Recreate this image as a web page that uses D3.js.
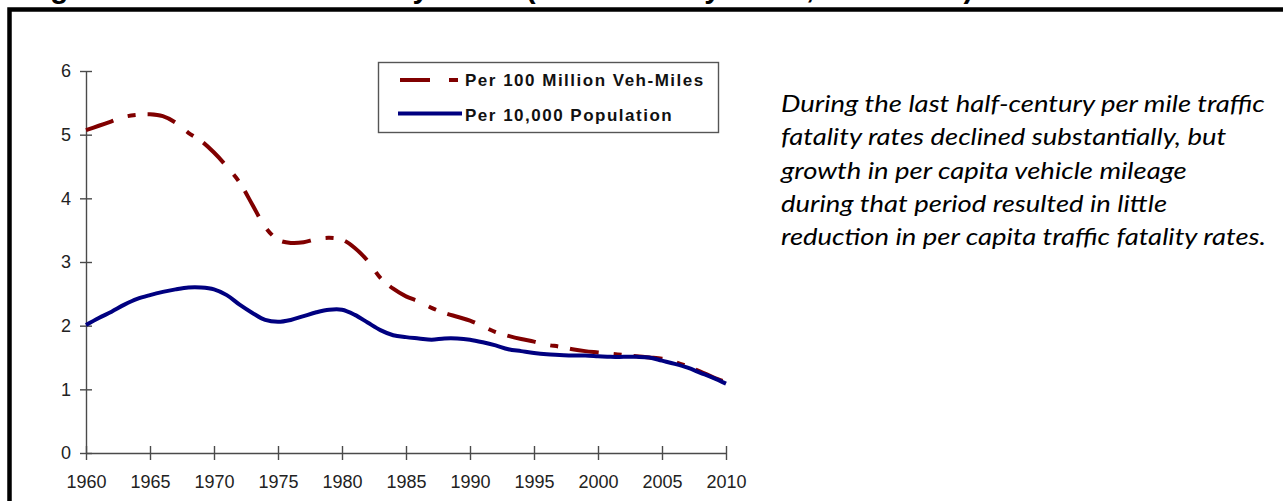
<!DOCTYPE html>
<html>
<head>
<meta charset="utf-8">
<script src="https://cdn.jsdelivr.net/npm/d3@7"></script>
<style>
  body { margin: 0; background: #fff; }
  svg { display: block; }
</style>
</head>
<body>
<svg id="chart" width="1283" height="501"></svg>
<script>
// Annual U.S. traffic fatality rates, 1960-2010
const years = [1960,1961,1962,1963,1964,1965,1966,1967,1968,1969,
               1970,1971,1972,1973,1974,1975,1976,1977,1978,1979,
               1980,1981,1982,1983,1984,1985,1986,1987,1988,1989,
               1990,1991,1992,1993,1994,1995,1996,1997,1998,1999,
               2000,2001,2002,2003,2004,2005,2006,2007,2008,2009,2010];

// Fatalities per 100 million vehicle-miles
const perVehMiles = [5.07,5.14,5.21,5.28,5.31,5.32,5.29,5.19,5.03,4.90,
                     4.72,4.50,4.25,3.90,3.55,3.35,3.30,3.31,3.36,3.38,
                     3.35,3.22,3.02,2.75,2.58,2.46,2.38,2.28,2.20,2.14,
                     2.08,1.99,1.90,1.84,1.79,1.75,1.70,1.67,1.63,1.60,
                     1.58,1.56,1.54,1.52,1.50,1.48,1.43,1.36,1.28,1.19,1.11];

// Fatalities per 10,000 population
const perPopulation = [2.01,2.12,2.22,2.33,2.42,2.48,2.53,2.57,2.60,2.60,
                       2.57,2.48,2.33,2.20,2.09,2.06,2.09,2.15,2.21,2.25,
                       2.25,2.17,2.05,1.93,1.85,1.82,1.80,1.78,1.80,1.80,
                       1.78,1.74,1.69,1.63,1.60,1.57,1.55,1.54,1.53,1.53,
                       1.52,1.51,1.51,1.51,1.50,1.45,1.40,1.34,1.26,1.18,1.09];

const xTicks = [1960,1965,1970,1975,1980,1985,1990,1995,2000,2005,2010];
const yTicks = [0,1,2,3,4,5,6];
const seriesNames = ["Per 100 Million Veh-Miles", "Per 10,000 Population"];
const titleText = "Figure 12  U.S. Traffic Fatality Rates (Traffic Safety Facts, 1960-2010)";
const noteLines = [
  "During the last half-century per mile traffic",
  "fatality rates declined substantially, but",
  "growth in per capita vehicle mileage",
  "during that period resulted in little",
  "reduction in per capita traffic fatality rates."
];

const RED = "#800000", BLUE = "#000080";
const AXIS = "#4a4a4a";
const FONT = "'Liberation Sans', Arial, sans-serif";

const svg = d3.select("#chart");

// Figure caption above the frame (runs off the top of the page)
svg.append("text")
  .attr("x", 24).attr("y", -2.5)
  .attr("font-family", FONT).attr("font-weight", "bold")
  .attr("font-size", 29.5).attr("fill", "#000")
  .text(titleText);

// Heavy outer frame
svg.append("rect")
  .attr("x", 9.5).attr("y", 9.5)
  .attr("width", 1400).attr("height", 600)
  .attr("fill", "none").attr("stroke", "#000").attr("stroke-width", 4.5);

const x = d3.scaleLinear().domain([1960, 2010]).range([86, 726]);
const y = d3.scaleLinear().domain([0, 6]).range([453, 71]);

// Y axis
const gy = svg.append("g")
  .attr("transform", `translate(${x(1960)},0)`)
  .call(d3.axisLeft(y).tickValues(yTicks).tickFormat(d3.format("d"))
        .tickSizeInner(6).tickSizeOuter(0).tickPadding(9));
gy.select(".domain").attr("stroke", AXIS).attr("stroke-width", 1.4);
gy.selectAll(".tick line").attr("x1", -6).attr("x2", 6)
  .attr("stroke", AXIS).attr("stroke-width", 1.4);
gy.selectAll(".tick text").attr("font-family", FONT).attr("font-size", 18).attr("fill", "#222");

// X axis
const gx = svg.append("g")
  .attr("transform", `translate(0,${y(0)})`)
  .call(d3.axisBottom(x).tickValues(xTicks).tickFormat(d3.format("d"))
        .tickSizeInner(7).tickSizeOuter(0).tickPadding(15));
gx.select(".domain").attr("stroke", AXIS).attr("stroke-width", 1.4);
gx.selectAll(".tick line").attr("y1", -7).attr("y2", 7)
  .attr("stroke", AXIS).attr("stroke-width", 1.4);
gx.selectAll(".tick text").attr("font-family", FONT).attr("font-size", 18).attr("fill", "#222");

// Series lines
const line = d3.line()
  .x((d, i) => x(years[i]))
  .y(d => y(d))
  .curve(d3.curveCatmullRom.alpha(0.5));

svg.append("path")
  .datum(perVehMiles)
  .attr("d", line)
  .attr("fill", "none").attr("stroke", RED)
  .attr("stroke-width", 4).attr("stroke-dasharray", "29,15,8,12");

svg.append("path")
  .datum(perPopulation)
  .attr("d", line)
  .attr("fill", "none").attr("stroke", BLUE)
  .attr("stroke-width", 4).attr("stroke-linejoin", "round");

// Legend
const lg = svg.append("g");
lg.append("rect")
  .attr("x", 378.5).attr("y", 62.5).attr("width", 340).attr("height", 70)
  .attr("fill", "#fff").attr("stroke", "#555").attr("stroke-width", 1.4);
lg.append("line")
  .attr("x1", 400).attr("x2", 459).attr("y1", 80).attr("y2", 80)
  .attr("stroke", RED).attr("stroke-width", 4).attr("stroke-dasharray", "30,19,9,30");
lg.append("line")
  .attr("x1", 398).attr("x2", 462).attr("y1", 113.5).attr("y2", 113.5)
  .attr("stroke", BLUE).attr("stroke-width", 4);
lg.selectAll("text.lbl")
  .data(seriesNames)
  .join("text")
  .attr("class", "lbl")
  .attr("x", 465)
  .attr("y", (d, i) => 86 + i * 34.7)
  .attr("font-family", FONT).attr("font-weight", "bold")
  .attr("font-size", 17).attr("letter-spacing", 1.5)
  .attr("fill", "#111")
  .text(d => d);

// Commentary, widened so the first line spans the text column
const note = svg.append("g").attr("transform", "translate(781,0)");
const noteText = note.selectAll("text")
  .data(noteLines)
  .join("text")
  .attr("x", 0)
  .attr("y", (d, i) => 112 + i * 33.3)
  .attr("font-family", "Lato, 'Open Sans', sans-serif")
  .attr("font-style", "italic")
  .attr("font-size", 22.5)
  .attr("fill", "#000")
  .text(d => d);
const firstWidth = noteText.node().getComputedTextLength();
note.attr("transform", `translate(781,0) scale(${484 / firstWidth},1)`);
</script>
</body>
</html>
